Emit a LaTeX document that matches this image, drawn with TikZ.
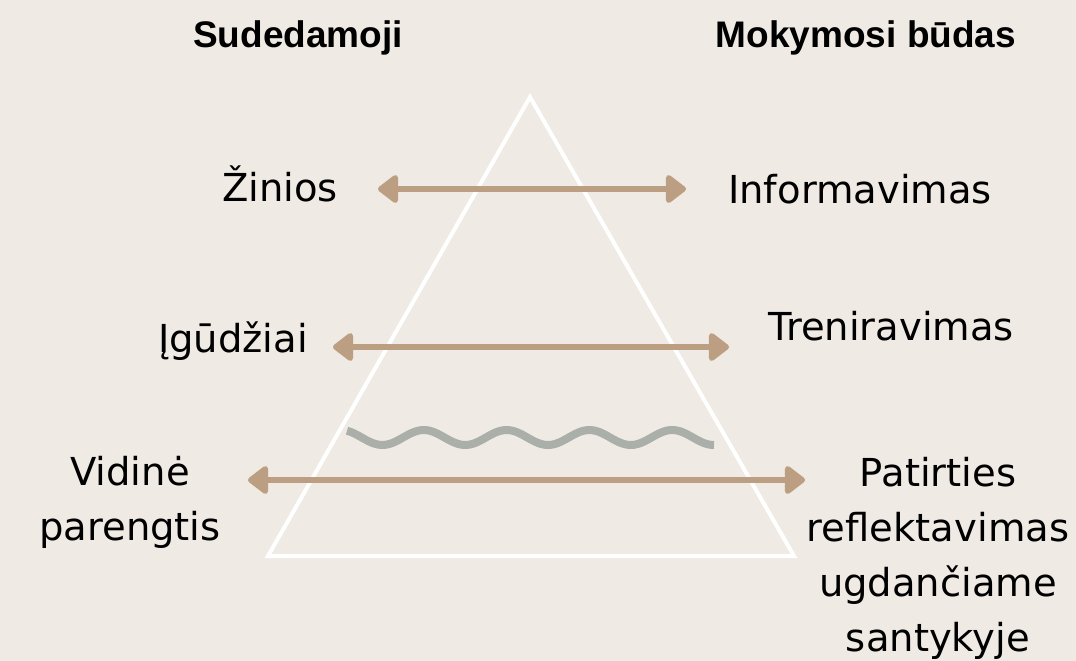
\documentclass[tikz,border=0pt]{standalone}
\usepackage{fontspec}
\setmainfont{DejaVu Sans}
\newfontfamily\headfont{Liberation Sans}
\usetikzlibrary{arrows.meta}
\definecolor{bgc}{HTML}{EFEAE4}
\definecolor{arrc}{HTML}{BC9E82}
\definecolor{wavec}{HTML}{AAAFA9}
\tikzset{
  head/.style={font=\headfont\bfseries\fontsize{37}{40}\selectfont, inner sep=0pt, anchor=base},
  lbl/.style={font=\fontsize{38.5}{55}\selectfont, inner sep=0pt, anchor=base, align=center},
  link/.style={draw=arrc, line width=6.5pt, {Triangle[length=22pt,width=32pt,round]}-{Triangle[length=22pt,width=32pt,round]}},
  wave/.style={draw=wavec, line width=8pt},
  tri/.style={draw=white, line width=4pt, line join=miter}
}
\begin{document}
\begin{tikzpicture}[x=1pt,y=-1pt]
\fill[bgc] (0,0) rectangle (1076,661);
\useasboundingbox (0,0) rectangle (1076,661);
% triangle
\coordinate (apex) at (530,97);
\coordinate (bl) at (268,556);
\coordinate (br) at (794,556);
\draw[tri] (apex) -- (bl) -- (br) -- cycle;
% headers
\node[head] (h1) at (298,48) {Sudedamoji};
\node[head] (h2) at (866,48) {Mokymosi būdas};
% labels
\node[lbl] (z) at (280,201) {Žinios};
\node[lbl] (inf) at (860,203) {Informavimas};
\node[lbl] (ig) at (233,352) {Įgūdžiai};
\node[lbl] (tr) at (891,340) {Treniravimas};
\node[lbl] (vp) at (130,540) {Vidinė\\parengtis};
\node[lbl] (pr) at (938,651.5) {Patirties\\reflektavimas\\ugdančiame\\santykyje};
% arrows
\coordinate (a1l) at (378,189); \coordinate (a1r) at (686,189);
\coordinate (a2l) at (333,347); \coordinate (a2r) at (729,347);
\coordinate (a3l) at (248,480); \coordinate (a3r) at (805,480);
\draw[link] (a1l) -- (a1r);
\draw[link] (a2l) -- (a2r);
\draw[link] (a3l) -- (a3r);
% wave
\draw[wave] plot[domain=347:714, samples=120, smooth] (\x, {437.5 - 7.5*cos(4.3478*(\x-341))});
\end{tikzpicture}
\end{document}
